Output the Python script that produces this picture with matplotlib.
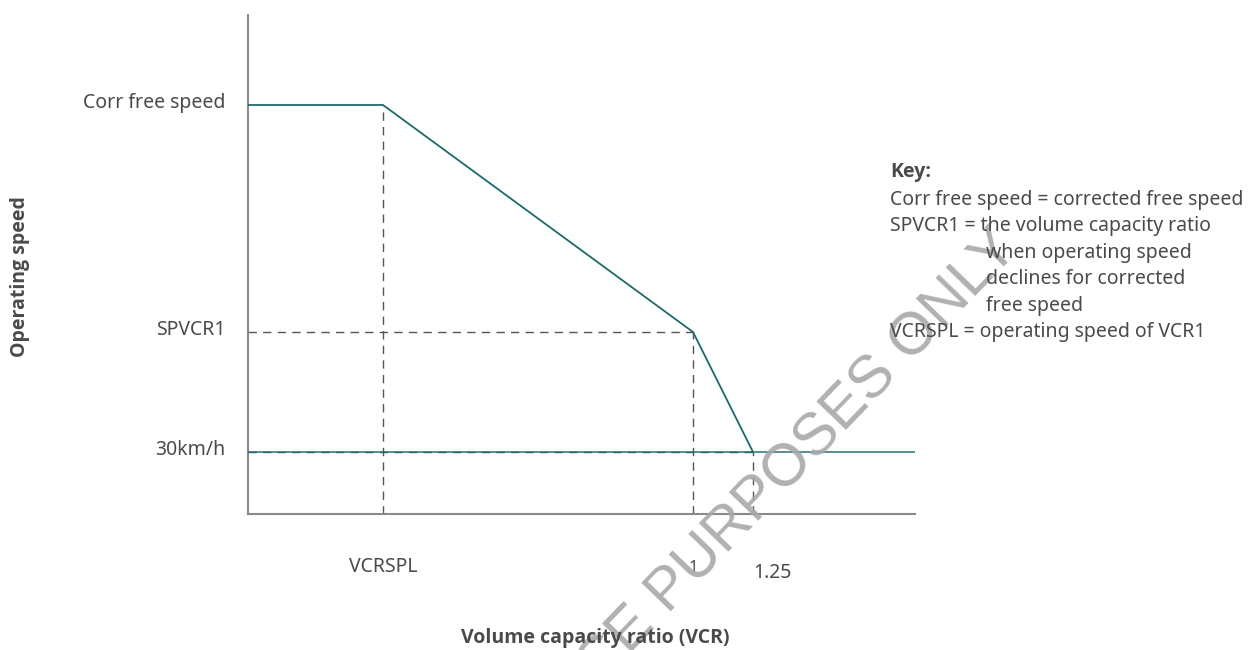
import matplotlib
import matplotlib.pyplot as plt
import matplotlib.transforms as mtransforms

matplotlib.use("Agg")

LINE_COLOR = "#1c6b6b"
DASH_COLOR = "#555555"
SPINE_COLOR = "#8a8a8a"
TEXT_COLOR = "#4a4a4a"
WATERMARK_COLOR = "#a8a8a8"
BOLD_FAMILY = ["Open Sans", "DejaVu Sans"]

plt.rcParams["font.family"] = ["Noto Sans", "DejaVu Sans"]

# schematic values (axis units)
x_max = 667
y_max = 499
vcr_points = [0, 135, 445, 505]          # start, VCRSPL, 1, 1.25
speed_points = [409, 409, 182, 62]       # corr free speed ... 30km/h
speed_floor = 62
x_tick_pos = [135, 445, 505]
x_tick_labels = ["VCRSPL", "1", "1.25"]
y_tick_pos = [409, 182, 62]
y_tick_labels = ["Corr free speed", "SPVCR1", "30km/h"]

key_title = "Key:"
key_lines = [
    ("Corr free speed = corrected free speed", 0.0),
    ("SPVCR1 = the volume capacity ratio", 0.0),
    ("when operating speed", 1.0),
    ("declines for corrected", 1.0),
    ("free speed", 1.0),
    ("VCRSPL = operating speed of VCR1", 0.0),
]

fig = plt.figure(figsize=(12.58, 6.5), dpi=100)
ax = fig.add_axes([248 / 1258, 136 / 650, 667 / 1258, 499 / 650])
ax.set_xlim(0, x_max)
ax.set_ylim(0, y_max)

# guide lines
dash = dict(color=DASH_COLOR, linewidth=1.0, dashes=(6, 4.5), zorder=2)
ax.plot([vcr_points[1], vcr_points[1]], [0, speed_points[1]], **dash)
ax.plot([0, vcr_points[2]], [speed_points[2], speed_points[2]], **dash)
ax.plot([vcr_points[2], vcr_points[2]], [0, speed_points[2]], **dash)
ax.plot([0, vcr_points[3]], [speed_floor, speed_floor], **dash)
ax.plot([vcr_points[3], vcr_points[3]], [0, speed_floor], **dash)

# speed curve
ax.plot(vcr_points, speed_points, color=LINE_COLOR, linewidth=1.3, zorder=3)
ax.plot([0, x_max], [speed_floor, speed_floor], color=LINE_COLOR,
        linewidth=1.3, alpha=0.8, zorder=3)

for side in ("top", "right"):
    ax.spines[side].set_visible(False)
for side in ("left", "bottom"):
    ax.spines[side].set_color(SPINE_COLOR)
    ax.spines[side].set_linewidth(1.5)

ax.set_xticks(x_tick_pos)
ax.set_xticklabels(x_tick_labels)
ax.set_yticks(y_tick_pos)
ax.set_yticklabels(y_tick_labels)
ax.tick_params(length=0, labelsize=14, colors=TEXT_COLOR)
ax.tick_params(axis="x", pad=31)
ax.tick_params(axis="y", pad=16)


def shift(label, dx, dy):
    off = mtransforms.ScaledTranslation(dx / 72, dy / 72, fig.dpi_scale_trans)
    label.set_transform(label.get_transform() + off)


xl = ax.get_xticklabels()
xl[1].set_fontsize(12)
shift(xl[1], 0, -2)
shift(xl[2], 14, -4)
for lab in ax.get_yticklabels():
    shift(lab, 0, 3)

fig.text(20 / 1258, 1 - 277 / 650, "Operating speed", rotation=90,
         ha="center", va="center", fontsize=14, fontweight="bold",
         family=BOLD_FAMILY, color=TEXT_COLOR)
fig.text(595 / 1258, 1 - 638 / 650, "Volume capacity ratio (VCR)",
         ha="center", va="center", fontsize=14, fontweight="bold",
         family=BOLD_FAMILY, color=TEXT_COLOR)

# key
key_x = 890 / 1258
indent = 96 / 1258
fig.text(key_x, 1 - 172 / 650, key_title, ha="left", va="center",
         fontsize=14, fontweight="bold", family=BOLD_FAMILY, color=TEXT_COLOR)
for i, (line, ind) in enumerate(key_lines):
    fig.text(key_x + ind * indent, 1 - (200 + 26.5 * i) / 650, line,
             ha="left", va="center", fontsize=14, color=TEXT_COLOR)

# watermark
fig.text(650 / 1258, 1 - 612 / 650, "FOR REFERENCE PURPOSES ONLY",
         rotation=46, rotation_mode="anchor", ha="center", va="center",
         fontsize=43, family="Liberation Sans",
         color=WATERMARK_COLOR, alpha=0.9, zorder=1)

fig.savefig("out.png", dpi=100)
